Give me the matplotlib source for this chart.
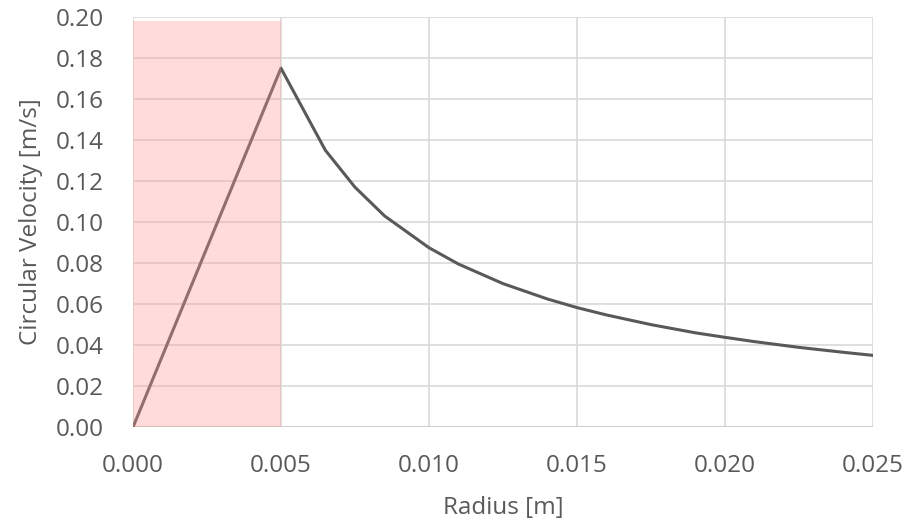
import matplotlib
matplotlib.use("Agg")
import matplotlib.pyplot as plt

# radius [m] and circular velocity [m/s]
radius = [0.0, 0.005, 0.0065, 0.0075, 0.0085, 0.010, 0.011, 0.0125, 0.014,
          0.015, 0.016, 0.0175, 0.019, 0.020, 0.021, 0.0225, 0.024, 0.025]
velocity = [0.0, 0.175, 0.135, 0.117, 0.103, 0.0875, 0.0795, 0.070, 0.0625,
            0.0583, 0.0547, 0.050, 0.046, 0.0438, 0.0417, 0.0389, 0.0365, 0.035]

core_radius = 0.005
core_top = 0.198

x_ticks = [0.000, 0.005, 0.010, 0.015, 0.020, 0.025]
y_ticks = [0.00, 0.02, 0.04, 0.06, 0.08, 0.10, 0.12, 0.14, 0.16, 0.18, 0.20]

text_color = "#595959"
plt.rcParams["font.family"] = ["Open Sans", "DejaVu Sans"]

fig = plt.figure(figsize=(9.11, 5.28), dpi=100)
ax = fig.add_axes([0.146, 0.191, 0.812, 0.777])

ax.plot(radius, velocity, color="#595959", linewidth=2.2, zorder=3)
ax.fill_between([0, core_radius], 0, core_top, color="#ff9a9a", alpha=0.35,
                linewidth=0, zorder=4)

ax.set_xlim(0, 0.025)
ax.set_ylim(0, 0.20)
ax.set_xticks(x_ticks)
ax.set_yticks(y_ticks)
ax.set_xticklabels([f"{t:.3f}" for t in x_ticks])
ax.set_yticklabels([f"{t:.2f}" for t in y_ticks])

ax.grid(True, color="#d9d9d9", linewidth=1.2, zorder=0)
ax.set_axisbelow(True)
for s in ax.spines.values():
    s.set_visible(False)
ax.axhline(0, color="#d0d0d0", linewidth=1.5, zorder=1)

fs = 17.5
ax.tick_params(length=0, labelsize=fs, colors=text_color)
ax.tick_params(axis="y", pad=21)
ax.tick_params(axis="x", pad=19.5)
ax.set_xlabel("Radius [m]", fontsize=fs, color=text_color, labelpad=13)
ax.set_ylabel("Circular Velocity [m/s]", fontsize=fs, color=text_color, labelpad=9)

fig.savefig("out.png", dpi=100)
